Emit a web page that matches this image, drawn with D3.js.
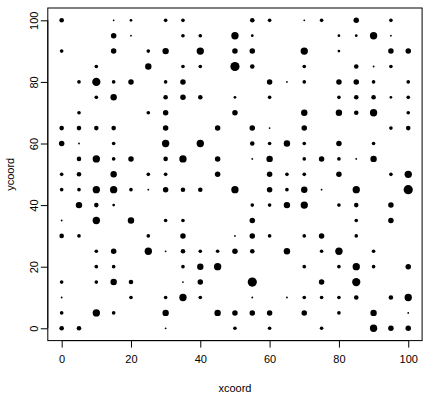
<!DOCTYPE html>
<html>
<head>
<meta charset="utf-8">
<script src="https://cdn.jsdelivr.net/npm/d3@7"></script>
<style>
  body { margin: 0; background: #fff; }
  svg text { font-family: "Liberation Sans", Arial, sans-serif; fill: #000; }
</style>
</head>
<body>
<div id="chart"></div>
<script>
// grid rows, top to bottom
var ycoordRows = [100, 95, 90, 85, 80, 75, 70, 65, 60, 55, 50, 45, 40, 35, 30, 25, 20, 15, 10, 5, 0];
var xcoordRows = [
  [0, 15, 20, 30, 35, 55, 60, 70, 75, 85, 95],
  [15, 20, 35, 40, 50, 55, 80, 85, 90, 95],
  [0, 15, 25, 30, 40, 50, 55, 70, 80, 95, 100],
  [10, 25, 35, 40, 50, 55, 70, 85, 90, 95],
  [5, 10, 15, 20, 30, 35, 60, 65, 70, 80, 85, 90, 100],
  [10, 15, 30, 35, 40, 50, 60, 80, 85, 90, 95, 100],
  [5, 25, 30, 50, 70, 80, 85, 90, 100],
  [0, 5, 10, 15, 30, 45, 55, 60, 70, 95, 100],
  [0, 5, 15, 30, 40, 55, 60, 65, 70, 80, 90],
  [5, 10, 15, 20, 30, 35, 45, 55, 60, 70, 75, 80, 85, 90],
  [0, 5, 15, 25, 30, 45, 60, 65, 70, 80, 95, 100],
  [0, 5, 10, 15, 20, 25, 30, 35, 40, 50, 60, 65, 70, 75, 85, 100],
  [5, 10, 15, 55, 60, 65, 70, 80, 85, 95],
  [0, 10, 20, 30, 35, 55, 85, 95],
  [0, 5, 25, 35, 50, 55, 60, 70, 75, 85],
  [10, 15, 25, 30, 35, 40, 45, 50, 55, 65, 75, 80, 90],
  [10, 15, 35, 40, 45, 70, 80, 85, 90, 100],
  [0, 10, 15, 20, 35, 40, 55, 75, 85],
  [0, 20, 30, 35, 40, 55, 65, 70, 75, 80, 85, 95, 100],
  [0, 10, 15, 30, 45, 50, 55, 60, 70, 80, 90, 100],
  [0, 5, 30, 50, 60, 75, 90, 95, 100]
];
var sizeRows = [
  [2.5, 1, 1.5, 2, 2, 2.5, 2, 1, 2, 3, 2],
  [3, 1, 2, 2, 4, 1.5, 1.5, 1.5, 4, 1],
  [2, 3, 2, 3.5, 4, 3, 3, 4, 1.5, 3, 3],
  [2, 3.5, 2, 2, 5, 2.5, 2, 2.5, 1, 2],
  [2, 4.5, 2, 3, 2, 3, 3, 1, 2, 3, 3, 2, 2],
  [2, 3.5, 2.5, 3, 2.5, 1.5, 2, 2, 2.5, 2.5, 1.5, 2],
  [2, 2, 3, 3, 3.5, 3.5, 2.5, 4, 2],
  [2.5, 2.5, 2.5, 2.5, 3, 3, 3, 1, 3, 2, 2.5],
  [3, 1, 2, 4, 4, 2.5, 2, 3.5, 2, 3, 2],
  [2.5, 4, 2, 3, 2.5, 4, 3, 1, 3.5, 2, 3, 2, 1, 3.5],
  [2, 2.5, 3.5, 2, 2, 3, 3, 2, 2, 3, 2, 4],
  [2, 2, 4, 4, 2, 1, 3, 2.5, 2.5, 4, 3, 2, 3.5, 1, 4, 5],
  [3.5, 2.5, 1.5, 2, 2, 3.5, 4, 2, 2.5, 3],
  [1, 4, 3.5, 2, 2, 3, 2, 3],
  [2.5, 2, 2, 3, 1, 3, 2, 2, 3, 2],
  [2, 3, 4, 1, 2.5, 2, 2, 3, 2.5, 3.5, 2, 4, 2],
  [2, 2, 2, 3.5, 4, 2, 2, 4, 2, 3],
  [2, 2, 3.5, 2.5, 1, 3, 5, 3, 4.5],
  [1, 2, 2, 4, 2, 1, 1, 2, 2, 2, 2.5, 2.5, 4],
  [2, 4, 2, 3.5, 3.5, 3, 3, 3, 3, 2, 3.5, 1],
  [2.5, 2.5, 1, 2, 2, 2, 4, 3, 3]
];
var xTicks = [0, 20, 40, 60, 80, 100];
var yTicks = [0, 20, 40, 60, 80, 100];

var points = [];
ycoordRows.forEach(function(y, i) {
  xcoordRows[i].forEach(function(x, j) {
    points.push({x: x, y: y, s: sizeRows[i][j]});
  });
});

var W = 427, H = 396;
var box = {left: 47.8, right: 422.1, top: 8, bottom: 340.6};

var svg = d3.select("#chart").append("svg")
  .attr("width", W).attr("height", H);

var x = d3.scaleLinear().domain([-4, 104]).range([box.left, box.right]);
var y = d3.scaleLinear().domain([-4, 104]).range([box.bottom, box.top]);
var r = d3.scaleLinear().domain([1, 5]).range([0.9, 4.6]);

svg.append("g")
  .selectAll("circle")
  .data(points)
  .enter().append("circle")
  .attr("cx", function(d) { return x(d.x); })
  .attr("cy", function(d) { return y(d.y); })
  .attr("r", function(d) { return r(d.s); })
  .style("fill", "#000");

svg.append("rect")
  .attr("x", box.left).attr("y", box.top)
  .attr("width", box.right - box.left).attr("height", box.bottom - box.top)
  .style("fill", "none").style("stroke", "#000").style("stroke-width", 1);

var xAxis = svg.append("g")
  .attr("transform", "translate(0," + box.bottom + ")")
  .call(d3.axisBottom(x).tickValues(xTicks).tickSize(7).tickSizeOuter(0).tickPadding(8));
xAxis.select(".domain").attr("d", "M" + x(0) + ",0H" + x(100));
xAxis.selectAll("text").style("font-size", "11px");

var yAxis = svg.append("g")
  .attr("transform", "translate(" + box.left + ",0)")
  .call(d3.axisLeft(y).tickValues(yTicks).tickSize(7).tickSizeOuter(0));
yAxis.select(".domain").attr("d", "M0," + y(0) + "V" + y(100));
yAxis.selectAll("text")
  .attr("transform", "rotate(-90)")
  .attr("x", 0).attr("y", -10).attr("dy", 0)
  .style("text-anchor", "middle")
  .style("font-size", "11px");
svg.selectAll(".tick line, .domain").style("stroke", "#000");

svg.append("text")
  .attr("x", (box.left + box.right) / 2).attr("y", 392)
  .style("text-anchor", "middle").style("font-size", "11px")
  .text("xcoord");

svg.append("text")
  .attr("transform", "translate(14," + (box.top + box.bottom) / 2 + ") rotate(-90)")
  .style("text-anchor", "middle").style("font-size", "11px")
  .text("ycoord");
</script>
</body>
</html>
